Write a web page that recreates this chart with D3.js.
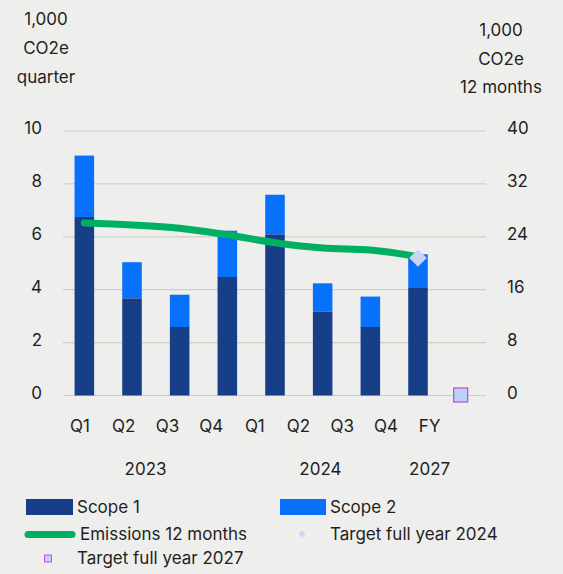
<!DOCTYPE html>
<html lang="en">
<head>
    <meta charset="UTF-8">
    <title>Emissions</title>
    <script src="https://cdnjs.cloudflare.com/ajax/libs/d3/7.8.5/d3.min.js"></script>
    <style>
        body {
            margin: 0;
            background: #eeeeec;
            font-family: Inter, "Noto Sans", sans-serif;
        }
        svg text {
            fill: #1f1f1f;
        }
    </style>
</head>
<body>
    <svg id="svg" width="563" height="574"></svg>

    <script>
        // data
        const quarters = ["Q1", "Q2", "Q3", "Q4", "Q1", "Q2", "Q3", "Q4", "FY"];
        const years = [
            { label: "2023", from: 0, to: 3 },
            { label: "2024", from: 4, to: 7 },
            { label: "2027", from: 8, to: 8 }
        ];
        const scope1 = [6.75, 3.67, 2.59, 4.48, 6.09, 3.17, 2.59, 4.09, null];
        const scope2 = [2.32, 1.37, 1.22, 1.75, 1.50, 1.07, 1.15, 1.25, null];
        const emissions12m = [26.1, 25.8, 25.3, 24.3, 23.1, 22.3, 22.0, 21.0, null];
        const target2024 = { index: 7, value: 20.8 };
        const target2027 = { index: 8, value: 0 };
        const leftTicks = [0, 2, 4, 6, 8, 10];
        const rightTicks = [0, 8, 16, 24, 32, 40];

        const svg = d3.select("#svg");

        const colors = {
            scope1: "#173f88",
            scope2: "#0771fb",
            line: "#00b062",
            grid: "#cfcfca",
            diamond: "#c9d4f8",
            diamondStroke: "#e6cdf3",
            squareFill: "#b7d4f8",
            squareStroke: "#c94fe8"
        };

        const idx = d3.range(quarters.length);

        const x = d3.scaleBand()
            .domain(idx)
            .range([60.5, 489.5])
            .paddingInner(0.59)
            .paddingOuter(0.295);

        // category labels sit on their own (slightly tighter) spacing
        const xLabel = d3.scaleBand()
            .domain(idx)
            .range([58.2, 451.5]);

        const yLeft = d3.scaleLinear().domain([0, 10]).range([395.5, 131]);
        const yRight = d3.scaleLinear().domain([0, 40]).range([395.5, 131]);

        // gridlines
        svg.append("g")
            .selectAll("line")
            .data(leftTicks)
            .enter()
            .append("line")
            .attr("x1", 63)
            .attr("x2", 486)
            .attr("y1", d => yLeft(d))
            .attr("y2", d => yLeft(d))
            .attr("stroke", colors.grid)
            .attr("stroke-width", 1.2);

        // left ticks
        svg.append("g")
            .selectAll("text")
            .data(leftTicks)
            .enter()
            .append("text")
            .attr("x", 42)
            .attr("y", d => yLeft(d) - 2.5)
            .attr("dy", "0.35em")
            .attr("text-anchor", "end")
            .attr("font-size", 17)
            .text(d => d);

        // right ticks
        svg.append("g")
            .selectAll("text")
            .data(rightTicks)
            .enter()
            .append("text")
            .attr("x", 507)
            .attr("y", d => yRight(d) - 2.5)
            .attr("dy", "0.35em")
            .attr("font-size", 17)
            .text(d => d);

        // axis titles
        const leftTitle = ["1,000", "CO2e", "quarter"];
        svg.append("g")
            .selectAll("text")
            .data(leftTitle)
            .enter()
            .append("text")
            .attr("x", 46)
            .attr("y", (d, i) => 25 + i * 29)
            .attr("text-anchor", "middle")
            .attr("font-size", 17)
            .text(d => d);

        const rightTitle = ["1,000", "CO2e", "12 months"];
        svg.append("g")
            .selectAll("text")
            .data(rightTitle)
            .enter()
            .append("text")
            .attr("x", 501)
            .attr("y", (d, i) => 36 + i * 28.5)
            .attr("text-anchor", "middle")
            .attr("font-size", 17)
            .text(d => d);

        // stacked bars
        const bars = svg.append("g");
        idx.filter(i => scope1[i] != null).forEach(i => {
            bars.append("rect")
                .attr("x", x(i))
                .attr("width", x.bandwidth())
                .attr("y", yLeft(scope1[i] + scope2[i]))
                .attr("height", yLeft(scope1[i]) - yLeft(scope1[i] + scope2[i]))
                .attr("fill", colors.scope2);
            bars.append("rect")
                .attr("x", x(i))
                .attr("width", x.bandwidth())
                .attr("y", yLeft(scope1[i]))
                .attr("height", yLeft(0) - yLeft(scope1[i]))
                .attr("fill", colors.scope1);
        });

        // 12 month line
        const line = d3.line()
            .defined(d => d.v != null)
            .x(d => x(d.i) + x.bandwidth() / 2)
            .y(d => yRight(d.v))
            .curve(d3.curveMonotoneX);

        svg.append("path")
            .datum(idx.map(i => ({ i: i, v: emissions12m[i] })))
            .attr("d", line)
            .attr("fill", "none")
            .attr("stroke", colors.line)
            .attr("stroke-width", 7)
            .attr("stroke-linecap", "round")
            .attr("stroke-linejoin", "round");

        // target markers
        const dx = x(target2024.index) + x.bandwidth() / 2;
        const dy = yRight(target2024.value);
        svg.append("path")
            .attr("d", d3.symbol().type(d3.symbolDiamond2).size(175)())
            .attr("transform", `translate(${dx},${dy})`)
            .attr("fill", colors.diamond)
            .attr("stroke", colors.diamondStroke)
            .attr("stroke-width", 1);

        const sx = x(target2027.index) + x.bandwidth() / 2 - 5;
        const sy = yRight(target2027.value);
        svg.append("rect")
            .attr("x", sx - 7)
            .attr("y", sy - 7.5)
            .attr("width", 14)
            .attr("height", 14)
            .attr("fill", colors.squareFill)
            .attr("stroke", colors.squareStroke)
            .attr("stroke-width", 1.3);

        // category labels
        svg.append("g")
            .selectAll("text")
            .data(idx)
            .enter()
            .append("text")
            .attr("x", i => xLabel(i) + xLabel.bandwidth() / 2)
            .attr("y", 432)
            .attr("text-anchor", "middle")
            .attr("font-size", 17)
            .text(i => quarters[i]);

        svg.append("g")
            .selectAll("text")
            .data(years)
            .enter()
            .append("text")
            .attr("x", d => (xLabel(d.from) + xLabel(d.to) + xLabel.bandwidth()) / 2)
            .attr("y", 475)
            .attr("text-anchor", "middle")
            .attr("font-size", 17)
            .text(d => d.label);

        // legend
        const legend = svg.append("g").attr("font-size", 17);

        legend.append("rect").attr("x", 26).attr("y", 499).attr("width", 47).attr("height", 16).attr("fill", colors.scope1);
        legend.append("text").attr("x", 77).attr("y", 507).attr("dy", "0.35em").text("Scope 1");

        legend.append("rect").attr("x", 280).attr("y", 499).attr("width", 46).attr("height", 16).attr("fill", colors.scope2);
        legend.append("text").attr("x", 330).attr("y", 507).attr("dy", "0.35em").text("Scope 2");

        legend.append("line").attr("x1", 28).attr("x2", 72).attr("y1", 534.5).attr("y2", 534.5)
            .attr("stroke", colors.line).attr("stroke-width", 7).attr("stroke-linecap", "round");
        legend.append("text").attr("x", 80).attr("y", 534.5).attr("dy", "0.35em").text("Emissions 12 months");

        legend.append("path")
            .attr("d", d3.symbol().type(d3.symbolDiamond2).size(30)())
            .attr("transform", "translate(302,534)")
            .attr("fill", colors.diamond);
        legend.append("text").attr("x", 330).attr("y", 534.5).attr("dy", "0.35em").text("Target full year 2024");

        legend.append("rect").attr("x", 44.5).attr("y", 555).attr("width", 7).attr("height", 7)
            .attr("fill", colors.squareFill).attr("stroke", colors.squareStroke).attr("stroke-width", 1);
        legend.append("text").attr("x", 77).attr("y", 558.5).attr("dy", "0.35em").text("Target full year 2027");
    </script>
</body>
</html>
